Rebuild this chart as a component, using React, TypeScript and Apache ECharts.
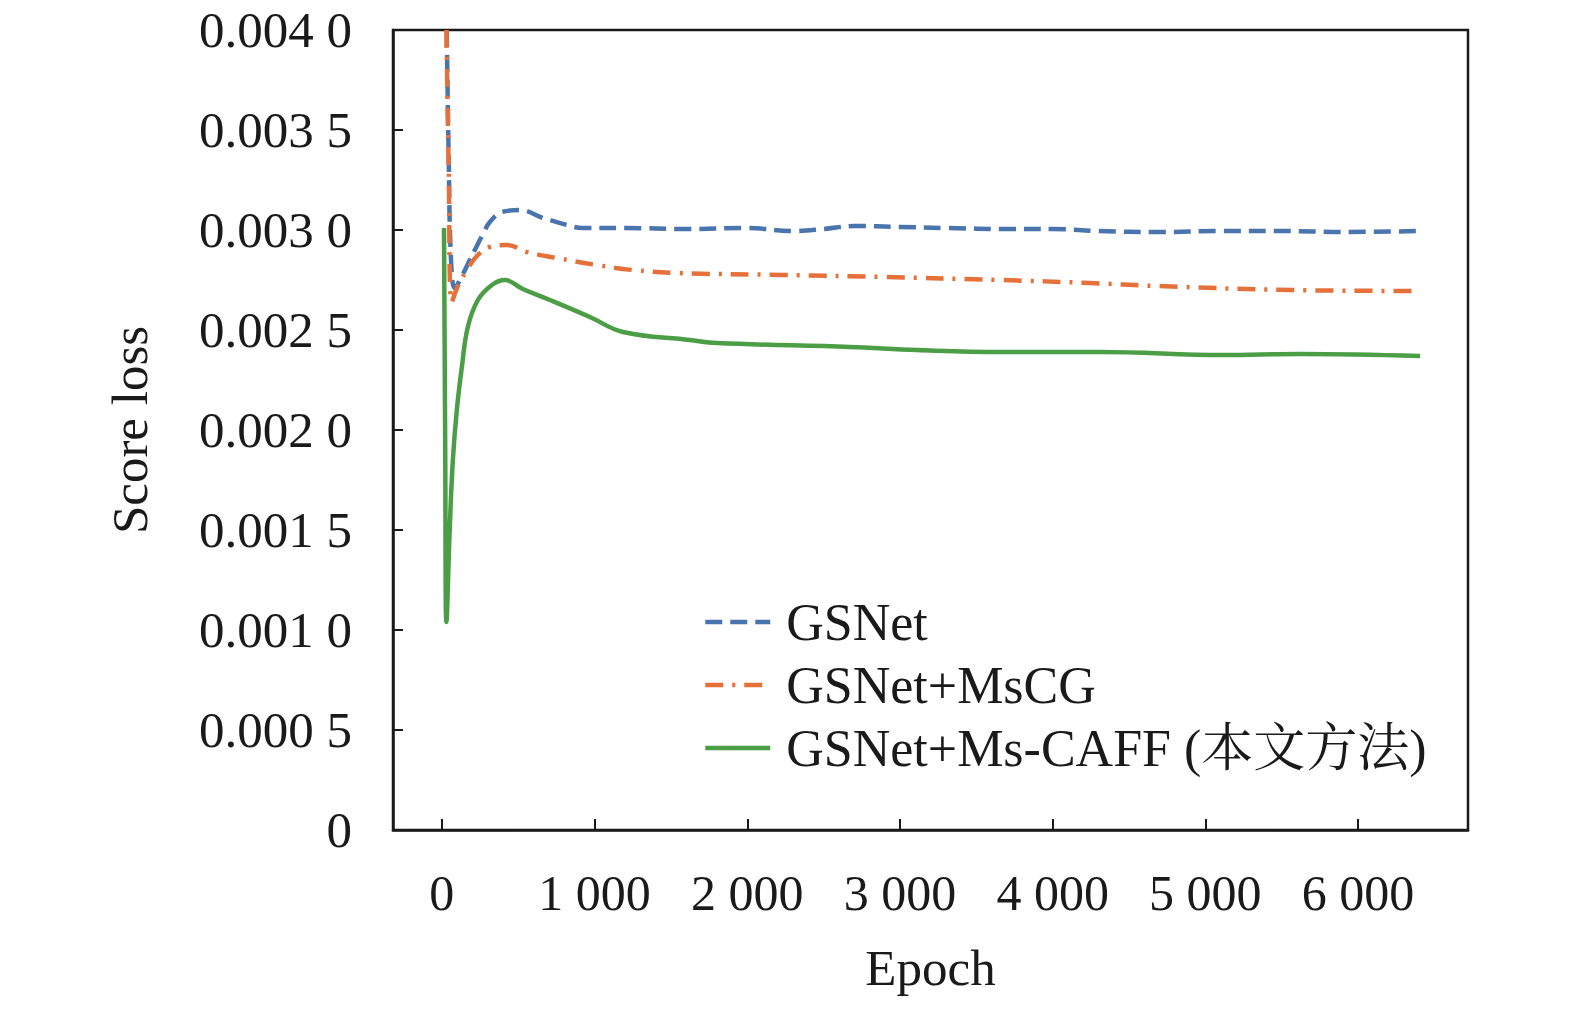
import React, { useEffect, useRef } from "react";
import * as echarts from "echarts";

const seriesNames = ["GSNet", "GSNet+MsCG", "GSNet+Ms-CAFF (本文方法)"];

const gsnetEpochs = [32, 45, 60, 85, 131, 183, 229, 269, 314, 393, 511, 662, 707, 819, 924, 1200, 1600, 2000, 2300, 2500, 2700, 3000, 3300, 3700, 4000, 4300, 4700, 5100, 5500, 5900, 6400];
const gsnetLoss = [0.0040, 0.00335, 0.00285, 0.00271, 0.00277, 0.00285, 0.00292, 0.00298, 0.00304, 0.00309, 0.0031, 0.00306, 0.00305, 0.003025, 0.00301, 0.00301, 0.003005, 0.00301, 0.002995, 0.003005, 0.00302, 0.003015, 0.00301, 0.003005, 0.003005, 0.002995, 0.00299, 0.002995, 0.002995, 0.00299, 0.002995];

const mscgEpochs = [30, 45, 65, 105, 164, 229, 314, 426, 557, 753, 1015, 1251, 1539, 2234, 2889, 3655, 4245, 4683, 5554, 6406];
const mscgLoss = [0.0040, 0.0033, 0.00264, 0.00272, 0.0028, 0.00287, 0.002915, 0.002925, 0.00289, 0.00286, 0.002825, 0.0028, 0.002785, 0.002775, 0.002765, 0.00275, 0.002735, 0.00272, 0.0027, 0.002695];

const caffEpochs = [14, 22, 30, 52, 72, 98, 131, 170, 236, 328, 413, 530, 707, 969, 1186, 1624, 1801, 2672, 3111, 3655, 4310, 5116, 5620, 6406];
const caffLoss = [0.00301, 0.0019, 0.00104, 0.001515, 0.00185, 0.0021, 0.002315, 0.002515, 0.00265, 0.002725, 0.00275, 0.002705, 0.00265, 0.002565, 0.00249, 0.00245, 0.002435, 0.002415, 0.0024, 0.00239, 0.00239, 0.002375, 0.00238, 0.00237];

const yTickValues = [0, 0.0005, 0.001, 0.0015, 0.002, 0.0025, 0.003, 0.0035, 0.004];
const yTickLabels = ["0", "0.000 5", "0.001 0", "0.001 5", "0.002 0", "0.002 5", "0.003 0", "0.003 5", "0.004 0"];
const xTickValues = [0, 1000, 2000, 3000, 4000, 5000, 6000];
const xTickLabels = ["0", "1 000", "2 000", "3 000", "4 000", "5 000", "6 000"];

const colors = ["#4a74ad", "#e5703a", "#4b9e46"];
const FONT = "'Times New Roman', 'Liberation Serif', 'Noto Serif CJK SC', 'Noto Sans CJK SC', serif";

function zip(xs: number[], ys: number[]) {
  return xs.map((x, i) => [x, ys[i]]);
}

export default function App() {
  const ref = useRef<HTMLDivElement>(null);
  useEffect(() => {
    if (!ref.current) return;
    const chart = echarts.init(ref.current, null, { renderer: "svg" });
    const yLabel = (v: number) => {
      const i = yTickValues.findIndex((t) => Math.abs(t - v) < 1e-9);
      return i >= 0 ? yTickLabels[i] : "";
    };
    const xLabel = (v: number) => {
      const i = xTickValues.indexOf(v);
      return i >= 0 ? xTickLabels[i] : "";
    };
    chart.setOption({
      animation: false,
      backgroundColor: "#ffffff",
      grid: {
        left: 393,
        top: 30,
        right: 107,
        bottom: 180,
        show: true,
        borderColor: "#1a1a1a",
        borderWidth: 2.5,
        backgroundColor: "transparent",
      },
      legend: {
        orient: "vertical",
        left: 698,
        top: 591,
        itemWidth: 65,
        itemHeight: 14,
        itemGap: 11,
        data: seriesNames,
        itemStyle: { opacity: 0 },
        lineStyle: { width: 4.5 },
        textStyle: {
          fontFamily: FONT,
          fontSize: 52,
          color: "#1a1a1a",
          padding: [0, 0, 0, 11],
        },
      },
      xAxis: {
        type: "value",
        min: -320,
        max: 6720,
        name: "Epoch",
        nameLocation: "middle",
        nameGap: 112,
        nameTextStyle: { fontFamily: FONT, fontSize: 51, color: "#1a1a1a" },
        axisLine: { show: true, onZero: false, lineStyle: { color: "#1a1a1a", width: 2.5 } },
        axisTick: {
          show: true,
          inside: true,
          length: 11,
          customValues: xTickValues,
          lineStyle: { color: "#1a1a1a", width: 2 },
        },
        axisLabel: {
          customValues: xTickValues,
          formatter: xLabel,
          margin: 38,
          fontFamily: FONT,
          fontSize: 50,
          color: "#1a1a1a",
        },
        splitLine: { show: false },
      },
      yAxis: {
        type: "value",
        min: 0,
        max: 0.004,
        interval: 0.0005,
        name: "Score loss",
        nameLocation: "middle",
        nameGap: 238,
        nameTextStyle: { fontFamily: FONT, fontSize: 51, color: "#1a1a1a" },
        axisLine: { show: true, onZero: false, lineStyle: { color: "#1a1a1a", width: 2.5 } },
        axisTick: { show: true, inside: true, length: 10, lineStyle: { color: "#1a1a1a", width: 2 } },
        axisLabel: {
          formatter: yLabel,
          margin: 41,
          fontFamily: FONT,
          fontSize: 51,
          color: "#1a1a1a",
        },
        splitLine: { show: false },
      },
      series: [
        {
          name: seriesNames[0],
          type: "line",
          data: zip(gsnetEpochs, gsnetLoss),
          showSymbol: false,
          symbol: "none",
          smooth: 0.4,
          color: colors[0],
          lineStyle: { color: colors[0], width: 4.5, type: [17, 8] },
          z: 3,
        },
        {
          name: seriesNames[1],
          type: "line",
          data: zip(mscgEpochs, mscgLoss),
          showSymbol: false,
          symbol: "none",
          smooth: 0.4,
          color: colors[1],
          lineStyle: { color: colors[1], width: 4.5, type: [18, 9, 3, 9] },
          z: 4,
        },
        {
          name: seriesNames[2],
          type: "line",
          data: zip(caffEpochs, caffLoss),
          showSymbol: false,
          symbol: "none",
          smooth: 0.4,
          color: colors[2],
          lineStyle: { color: colors[2], width: 4.5 },
          z: 2,
        },
      ],
    });
    return () => chart.dispose();
  }, []);
  return (
    <div
      ref={ref}
      style={{ position: "absolute", left: 0, top: 0, width: 1575, height: 1010 }}
    />
  );
}
